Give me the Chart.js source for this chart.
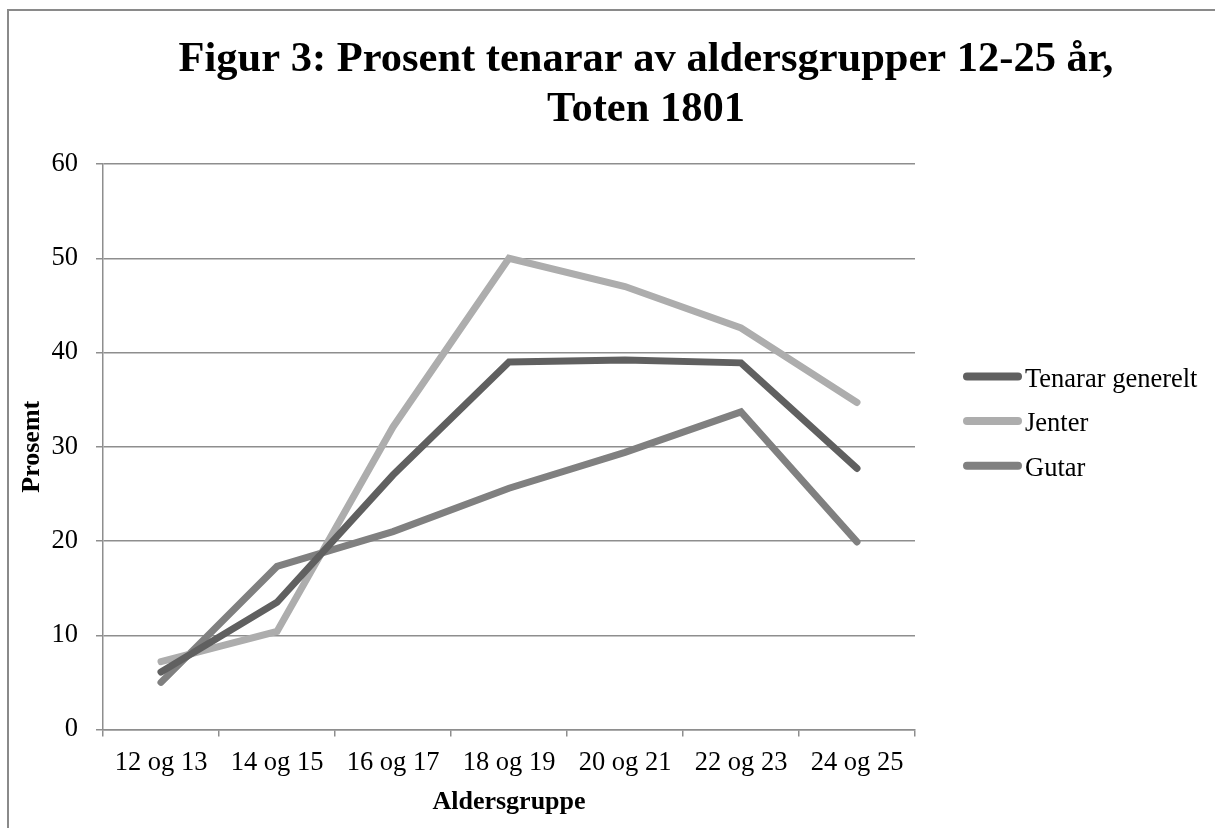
<!DOCTYPE html>
<html>
<head>
<meta charset="utf-8">
<script src="https://cdn.jsdelivr.net/npm/chart.js@4/dist/chart.umd.min.js"></script>
<style>
  html, body { margin: 0; padding: 0; background: #ffffff; }
  #wrap { width: 1215px; height: 828px; position: relative; }
</style>
</head>
<body>
<div id="wrap"><canvas id="c" width="1215" height="828"></canvas></div>
<script>
const categories = ["12 og 13", "14 og 15", "16 og 17", "18 og 19", "20 og 21", "22 og 23", "24 og 25"];
const tenararGenerelt = [6.1, 13.5, 27.0, 39.0, 39.2, 38.9, 27.7];
const jenter = [7.2, 10.4, 32.1, 50.0, 47.0, 42.6, 34.7];
const gutar = [5.0, 17.3, 21.0, 25.6, 29.4, 33.7, 19.9];
const seriesNames = ["Tenarar generelt", "Jenter", "Gutar"];
const yTicks = [0, 10, 20, 30, 40, 50, 60];
const titleLines = ["Figur 3: Prosent tenarar av aldersgrupper 12-25 år,", "Toten 1801"];

const SERIF = "'Liberation Serif', 'Times New Roman', 'DejaVu Serif', serif";
const colors = ["#606060", "#ADADAD", "#808080"];
const gridColor = "#8E8E8E";
const FS = 26.5;

const borderPlugin = {
  id: 'outerBorder',
  beforeDraw(chart) {
    const ctx = chart.ctx;
    ctx.save();
    ctx.fillStyle = '#ffffff';
    ctx.fillRect(0, 0, chart.width, chart.height);
    ctx.strokeStyle = '#8A8A8A';
    ctx.lineWidth = 2;
    ctx.beginPath();
    ctx.moveTo(8, chart.height + 5);
    ctx.lineTo(8, 10);
    ctx.lineTo(chart.width + 5, 10);
    ctx.stroke();
    ctx.restore();
  }
};

const titlePlugin = {
  id: 'bigTitle',
  afterDraw(chart) {
    const ctx = chart.ctx;
    ctx.save();
    ctx.fillStyle = '#000000';
    ctx.font = "bold 42.5px " + SERIF;
    ctx.textAlign = 'center';
    ctx.textBaseline = 'alphabetic';
    const cx = 646;
    titleLines.forEach((t, i) => ctx.fillText(t, cx, 71 + i * 50));
    ctx.restore();
  }
};

const legendPlugin = {
  id: 'lineLegend',
  afterDraw(chart) {
    const ctx = chart.ctx;
    const x0 = 967, x1 = 1018, yStart = 376.5, step = 44.6;
    ctx.save();
    chart.data.datasets.forEach((ds, i) => {
      const y = yStart + i * step;
      ctx.strokeStyle = ds.borderColor;
      ctx.lineWidth = 8;
      ctx.lineCap = 'round';
      ctx.beginPath();
      ctx.moveTo(x0, y);
      ctx.lineTo(x1, y);
      ctx.stroke();
      ctx.fillStyle = '#000000';
      ctx.font = FS + "px " + SERIF;
      ctx.textBaseline = 'alphabetic';
      ctx.textAlign = 'left';
      ctx.fillText(ds.label, 1025, y + 10);
    });
    ctx.restore();
  }
};

const datasets = [tenararGenerelt, jenter, gutar].map((vals, i) => ({
  label: seriesNames[i],
  data: vals,
  borderColor: colors[i],
  backgroundColor: colors[i],
  borderWidth: 7,
  pointRadius: 0,
  pointHoverRadius: 0,
  tension: 0,
  fill: false,
  borderCapStyle: 'round',
  borderJoinStyle: 'miter'
}));

new Chart(document.getElementById('c'), {
  type: 'line',
  data: { labels: categories, datasets: datasets },
  plugins: [borderPlugin, titlePlugin, legendPlugin],
  options: {
    responsive: false,
    animation: false,
    devicePixelRatio: 1,
    layout: { padding: { left: 0, right: 300, top: 164, bottom: 0 } },
    plugins: {
      legend: { display: false },
      tooltip: { enabled: false },
      title: { display: false }
    },
    scales: {
      x: {
        type: 'category',
        offset: true,
        grid: { display: true, drawOnChartArea: false, offset: true, tickLength: 7, color: gridColor, lineWidth: 1.5 },
        border: { display: true, color: gridColor, width: 1.5 },
        ticks: { color: '#000000', font: { family: SERIF, size: FS }, padding: 11, maxRotation: 0, autoSkip: false },
        title: { display: true, text: 'Aldersgruppe', color: '#000000', font: { family: SERIF, size: 26, weight: 'bold' }, padding: { top: 0, bottom: 10 } },
        afterFit(scale) { scale.height = 98.5; }
      },
      y: {
        min: 0, max: 60,
        afterBuildTicks(scale) { scale.ticks = yTicks.map(v => ({ value: v })); },
        grid: { display: true, drawOnChartArea: true, tickLength: 7, color: gridColor, lineWidth: 1.5 },
        border: { display: true, color: gridColor, width: 1.5 },
        ticks: { color: '#000000', font: { family: SERIF, size: FS }, padding: 18 },
        title: { display: true, text: 'Prosemt', color: '#000000', font: { family: SERIF, size: 26, weight: 'bold' }, padding: { top: 17, bottom: 0 } },
        afterFit(scale) { scale.width = 103; }
      }
    }
  }
});
</script>
</body>
</html>
